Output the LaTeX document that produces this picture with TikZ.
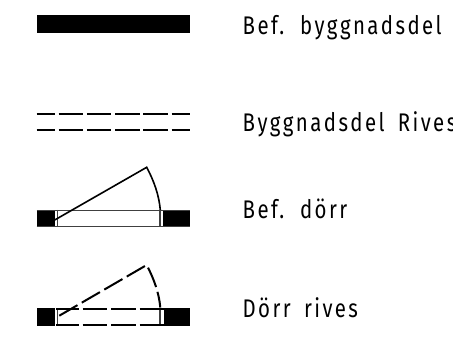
\documentclass[tikz,border=0pt]{standalone}
\usepackage{fontspec}
\setmainfont{Fira Sans}[FakeStretch=0.8,LetterSpace=9.5,WordSpace=1.7]
\tikzset{
  lbl/.style={anchor=base west,inner sep=0pt,font=\fontsize{25.5pt}{28pt}\selectfont,text=black},
  wall/.style={fill=black,draw=none},
  thin line/.style={draw=black!75,line width=1.2pt},
  rem dash/.style={draw=black,line width=2pt,dash pattern=on 24.5pt off 3.8pt,dash phase=6.5pt},
  door dash/.style={draw=black,line width=1.6pt,dash pattern=on 24.5pt off 4pt,dash phase=2pt},
  leaf/.style={draw=black,line width=1.6pt},
  leaf dash/.style={draw=black,line width=2pt,dash pattern=on 21pt off 5pt},
}
\begin{document}
\begin{tikzpicture}[x=1pt,y=-1pt]
\useasboundingbox (0,0) rectangle (453,339);
% top bar
\fill[wall] (37,15) rectangle (190,33);
\node[lbl] (t1) at (242.5,35) {Bef. byggnadsdel};
% dashed
\draw[rem dash] (36.7,114) -- (190,114);
\draw[rem dash] (36.7,130.3) -- (190,130.3);
\node[lbl] (t2) at (242.5,131.5) {Byggnadsdel Rives};
% existing door
\fill[wall] (36.7,210) rectangle (54.7,227.3);
\fill[wall] (163.3,210) rectangle (189.5,227.3);
\draw[thin line] (36.7,210.6) -- (190,210.6) (36.7,226.9) -- (190,226.9);
\draw[thin line] (57.7,210) -- (57.7,227.3) (160,210) -- (160,227.3);
\draw[leaf] (54.7,220) -- (146.7,167.3) .. controls (154,181) and (159,195) .. (160.3,210);
\node[lbl] (t3) at (242.5,218.8) {Bef. dörr};
% door to be removed
\fill[wall] (36.7,308.3) rectangle (54.7,326);
\fill[wall] (164,308.3) rectangle (189.5,326);
\draw[thin line] (57.3,309) -- (57.3,326) (160,308) -- (160,326);
\draw[door dash] (56,309.3) -- (164,309.3);
\draw[door dash] (56,325.3) -- (164,325.3);
\draw[leaf dash] (59.3,315.7) -- (146.7,265) .. controls (154,279) and (159,293) .. (160.3,307.5);
\node[lbl] (t4) at (242.5,317.5) {Dörr rives};
\end{tikzpicture}
\end{document}
